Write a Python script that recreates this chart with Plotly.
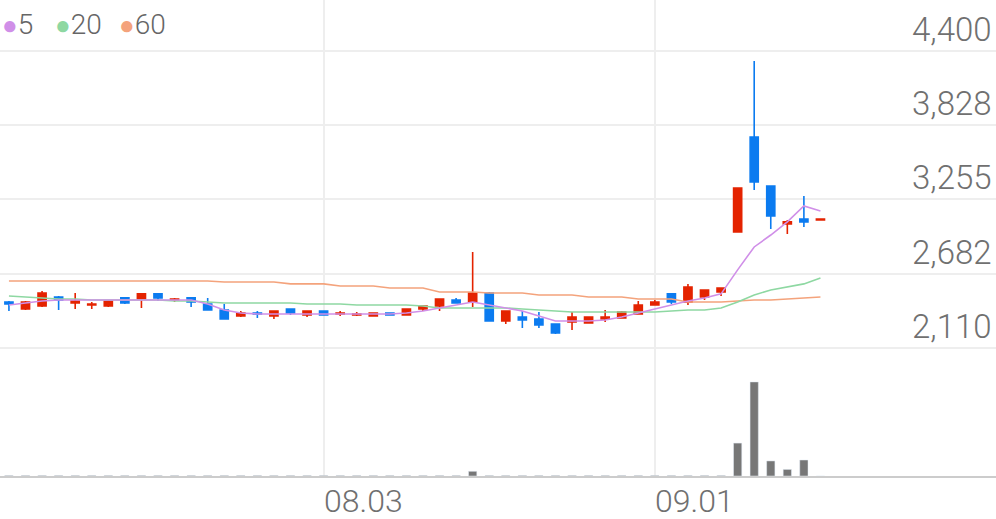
import plotly.graph_objects as go

opens  = [2465,2411,2434,2503,2457,2442,2434,2496,2488,2527,2480,2496,2449,2403,2357,2380,2357,2411,2365,2395,2372,2365,2357,2380,2365,2411,2434,2480,2465,2534,2318,2349,2334,2295,2311,2303,2334,2341,2372,2442,2527,2465,2503,2542,3005,3737,3359,3066,3105,3097]
highs  = [2472,2472,2550,2511,2534,2465,2480,2503,2527,2527,2496,2503,2496,2449,2395,2395,2395,2411,2395,2395,2395,2388,2380,2380,2411,2434,2488,2496,2850,2542,2395,2395,2388,2295,2388,2349,2403,2395,2472,2480,2527,2604,2557,2573,3344,4323,3359,3097,3282,3105]
lows   = [2395,2403,2426,2403,2411,2411,2426,2449,2418,2472,2465,2426,2403,2334,2349,2341,2334,2365,2349,2365,2357,2357,2357,2365,2365,2395,2395,2457,2426,2318,2295,2264,2264,2218,2249,2303,2311,2341,2372,2442,2449,2442,2480,2511,3005,3328,3028,2989,3043,3097]
closes = [2449,2465,2534,2480,2472,2449,2472,2457,2527,2496,2488,2465,2403,2334,2380,2372,2395,2380,2395,2365,2380,2372,2380,2365,2411,2434,2488,2457,2534,2318,2395,2326,2287,2226,2349,2349,2349,2388,2442,2465,2465,2580,2557,2573,3344,3390,3128,3082,3082,3105]
ma5  = [2442,2457,2472,2480,2480,2480,2480,2480,2480,2480,2480,2480,2449,2403,2380,2372,2372,2372,2372,2372,2372,2372,2372,2372,2380,2395,2418,2442,2465,2442,2418,2395,2357,2318,2318,2318,2326,2349,2380,2411,2442,2472,2496,2527,2712,2889,2981,3082,3205,3166]
ma20 = [2511,2503,2496,2488,2488,2480,2480,2480,2480,2480,2472,2472,2465,2457,2457,2457,2457,2457,2449,2449,2449,2442,2442,2442,2442,2434,2418,2418,2418,2418,2418,2411,2403,2395,2388,2388,2388,2388,2388,2388,2395,2403,2403,2418,2465,2519,2557,2580,2604,2650]
ma60 = [2627,2627,2627,2627,2627,2627,2627,2627,2627,2627,2627,2627,2627,2619,2619,2619,2619,2604,2604,2604,2588,2588,2588,2573,2573,2573,2542,2542,2542,2534,2534,2534,2519,2519,2519,2503,2503,2503,2488,2488,2488,2465,2465,2465,2472,2480,2480,2488,2496,2503]
volume = [0.6]*28 + [5] + [0.6]*15 + [35,100,16,7,17,0]
tick_vals = [4400,3828,3255,2682,2110]
tick_text = ["4,400","3,828","3,255","2,682","2,110"]
date_idx = [19,39]
date_text = ["08.03","09.01"]

x = list(range(len(closes)))
RED, BLUE = "#e42300", "#0b7bf0"
fig = go.Figure()
fig.add_trace(go.Bar(x=x, y=volume, yaxis="y2", marker_color="#777777", width=0.5, hoverinfo="skip"))
fig.add_trace(go.Scatter(x=x, y=ma60, mode="lines", line=dict(color="#f4a37c", width=1.6)))
fig.add_trace(go.Scatter(x=x, y=ma20, mode="lines", line=dict(color="#8ed8a2", width=1.6)))
fig.add_trace(go.Scatter(x=x, y=ma5, mode="lines", line=dict(color="#d08fe8", width=1.6)))
fig.add_trace(go.Candlestick(x=x, open=opens, high=highs, low=lows, close=closes, whiskerwidth=0,
    increasing=dict(line=dict(color=RED, width=1.6), fillcolor=RED),
    decreasing=dict(line=dict(color=BLUE, width=1.6), fillcolor=BLUE)))

FONT = dict(family="Roboto", size=33, color="#707070", weight=300)
ann = [dict(x=1, xref="paper", y=v, yref="y", text=t, showarrow=False, xanchor="right", yanchor="bottom",
            xshift=-2, yshift=0, font=FONT) for v, t in zip(tick_vals, tick_text)]
for i, t in zip(date_idx, date_text):
    ann.append(dict(x=i, xref="x", y=0, yref="paper", text=t, showarrow=False, xanchor="left", yanchor="top",
                    xshift=-2, yshift=-4, font=dict(FONT, size=32)))
for xp, c, t in [(0.0, "#d08fe8", "5"), (0.053, "#8ed8a2", "20"), (0.117, "#f4a37c", "60")]:
    ann.append(dict(x=xp, xref="paper", y=1.0, yref="paper", yanchor="top", xanchor="left", showarrow=False,
                    text=f"<span style='color:{c};font-size:26px'>●</span>{t}", font=dict(family="Roboto", size=28, color="#666", weight=300), yshift=-6))
fig.update_layout(
    width=996, height=519, margin=dict(l=0, r=0, t=0, b=43), showlegend=False,
    plot_bgcolor="white", paper_bgcolor="white", annotations=ann,
    xaxis=dict(range=[-0.54, 59.6], tickvals=date_idx, showticklabels=False, showgrid=True, gridcolor="#eeeeee",
               gridwidth=1.5, rangeslider=dict(visible=False), showline=True, linecolor="#cccccc", linewidth=1.5,
               ticks="", zeroline=False),
    yaxis=dict(range=[1123, 4793], tickvals=tick_vals, showticklabels=False, gridcolor="#eeeeee", gridwidth=1.5, zeroline=False),
    yaxis2=dict(range=[0, 506], overlaying="y", visible=False),
)
div = fig.to_html(full_html=False, include_plotlyjs=True, config={"displayModeBar": False})
with open("out.html", "w", encoding="utf-8") as fh:
    fh.write("<!DOCTYPE html><html><head><meta charset='utf-8'><style>html,body{margin:0;padding:0;overflow:hidden}</style></head><body>"
             + div + "</body></html>")
